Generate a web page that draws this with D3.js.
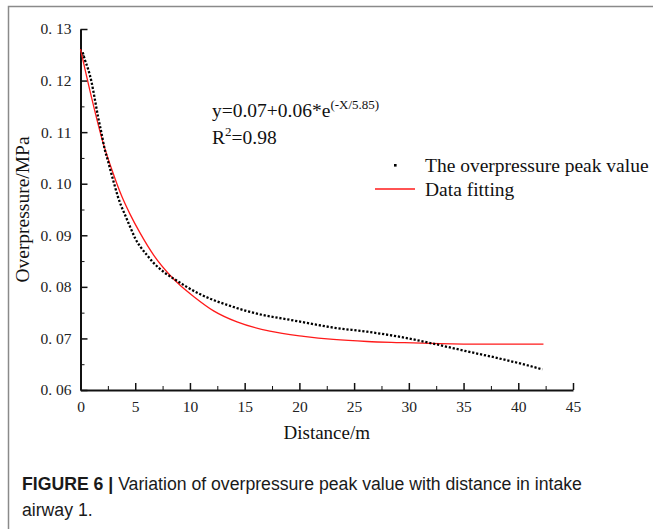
<!DOCTYPE html>
<html>
<head>
<meta charset="utf-8">
<style>
  body { margin: 0; background: #fff; }
  svg { display: block; }
  .tick text { font-family: "Liberation Serif", serif; font-size: 15.5px; fill: #222; }
  .axis path, .axis line { stroke: #111; }
</style>
</head>
<body>
<div id="container"></div>
<script src="https://cdn.jsdelivr.net/npm/d3@7"></script>
<script>

// peak overpressure (distance m, MPa)
var peakDistance = [0.2, 0.4, 0.7, 1.0, 1.3, 1.6, 1.9, 2.2, 2.5, 2.8, 3.1, 3.4, 3.7, 4.0, 4.3, 4.6,
                    5.0, 5.5, 6.1, 6.7, 7.6, 8.5, 9.1, 9.7, 11.0, 12.2, 13.4, 15.2, 17.0, 18.9,
                    20.7, 23.1, 26.2, 29.2, 32.2, 35.3, 38.3, 40.8, 42.2];
var peakValue = [0.1255, 0.1240, 0.1222, 0.1198, 0.1165, 0.1130, 0.1100, 0.1068, 0.1045, 0.1021,
                 0.0998, 0.0976, 0.0958, 0.0943, 0.0928, 0.0913, 0.0894, 0.0877, 0.0861, 0.0846,
                 0.0829, 0.0816, 0.0808, 0.0800, 0.0785, 0.0774, 0.0765, 0.0753, 0.0744, 0.0737,
                 0.0730, 0.0721, 0.0713, 0.0703, 0.0690, 0.0675, 0.0661, 0.0648, 0.0640];

// fitted curve
var fitDistance = [0, 1.0, 2.0, 2.9, 3.8, 4.5, 5.4, 6.7, 8.2, 9.1, 10.3, 12.2, 14.3, 17.3, 20.4,
                   23.1, 26.2, 29.2, 32.8, 36.8, 42.3];
var fitValue = [0.1261, 0.1168, 0.1084, 0.1025, 0.0974, 0.0942, 0.0906, 0.0861, 0.0822, 0.0803,
                0.0782, 0.0753, 0.0732, 0.0714, 0.0704, 0.0698, 0.0694, 0.0692, 0.0690, 0.0689, 0.0689];

var xTicks = [0, 5, 10, 15, 20, 25, 30, 35, 40, 45];
var yTicks = [0.06, 0.07, 0.08, 0.09, 0.10, 0.11, 0.12, 0.13];
var yTickLabels = ["0. 06", "0. 07", "0. 08", "0. 09", "0. 10", "0. 11", "0. 12", "0. 13"];

var W = 653, H = 529;
var svg = d3.select("#container").append("svg")
    .attr("width", W)
    .attr("height", H);

// figure frame (left + top)
svg.append("path")
    .attr("d", "M8.5," + H + "V6.5H" + W)
    .attr("fill", "none")
    .attr("stroke", "#8a8a8a")
    .attr("stroke-width", 1.5);

var x = d3.scaleLinear().domain([0, 45]).range([80.5, 573]);
var y = d3.scaleLinear().domain([0.06, 0.13]).range([390, 29]);

// minor ticks
svg.append("g")
    .attr("class", "axis")
    .attr("transform", "translate(0,390)")
    .call(d3.axisBottom(x).tickValues(d3.range(2.5, 45, 5)).tickSize(-4).tickFormat(""))
    .call(function(g) { g.select(".domain").remove(); });

svg.append("g")
    .attr("class", "axis")
    .attr("transform", "translate(80.5,0)")
    .call(d3.axisLeft(y).tickValues(d3.range(0.065, 0.13, 0.01)).tickSize(-4).tickFormat(""))
    .call(function(g) { g.select(".domain").remove(); });

// main axes, ticks point inward
var xAxis = svg.append("g")
    .attr("class", "axis")
    .attr("transform", "translate(0,390)")
    .call(d3.axisBottom(x).tickValues(xTicks).tickSizeInner(-7).tickSizeOuter(0).tickPadding(11));
xAxis.select(".domain").attr("stroke-width", 2);
xAxis.selectAll(".tick line").attr("stroke-width", 1.5);

var yAxis = svg.append("g")
    .attr("class", "axis")
    .attr("transform", "translate(80.5,0)")
    .call(d3.axisLeft(y).tickValues(yTicks).tickSizeInner(-7).tickSizeOuter(0).tickPadding(9)
      .tickFormat(function(d, i) { return yTickLabels[i]; }));
yAxis.select(".domain").attr("stroke-width", 2);
yAxis.selectAll(".tick line").attr("stroke-width", 1.5);

// axis titles
svg.append("text")
    .attr("x", x(22.5))
    .attr("y", 439)
    .attr("text-anchor", "middle")
    .attr("font-family", "Liberation Serif, serif")
    .attr("font-size", 19)
    .attr("fill", "#111")
    .text("Distance/m");

svg.append("text")
    .attr("transform", "translate(29," + y(0.095) + ") rotate(-90)")
    .attr("text-anchor", "middle")
    .attr("font-family", "Liberation Serif, serif")
    .attr("font-size", 19.5)
    .attr("fill", "#111")
    .text("Overpressure/MPa");

// series
var fitData = fitDistance.map(function(d, i) { return [d, fitValue[i]]; });
var peakData = peakDistance.map(function(d, i) { return [d, peakValue[i]]; });

var line = d3.line()
    .x(function(d) { return x(d[0]); })
    .y(function(d) { return y(d[1]); })
    .curve(d3.curveMonotoneX);

svg.append("path")
    .datum(fitData)
    .attr("d", line)
    .attr("fill", "none")
    .attr("stroke", "#ff1a1a")
    .attr("stroke-width", 1.3);

svg.append("path")
    .datum(peakData)
    .attr("d", line)
    .attr("fill", "none")
    .attr("stroke", "#000")
    .attr("stroke-width", 2.3)
    .attr("stroke-dasharray", "2.2,1.8");

// equation
var eq = svg.append("text")
    .attr("x", 212)
    .attr("y", 117)
    .attr("font-family", "Liberation Serif, serif")
    .attr("font-size", 19.5)
    .attr("fill", "#111");
eq.append("tspan").text("y=0.07+0.06*e");
eq.append("tspan").attr("font-size", 13).attr("dy", -8).text("(-X/5.85)");

var r2 = svg.append("text")
    .attr("x", 212)
    .attr("y", 144)
    .attr("font-family", "Liberation Serif, serif")
    .attr("font-size", 19.5)
    .attr("fill", "#111");
r2.append("tspan").text("R");
r2.append("tspan").attr("font-size", 13).attr("dy", -8).text("2");
r2.append("tspan").attr("dy", 8).text("=0.98");

// legend
var legend = svg.append("g")
    .attr("font-family", "Liberation Serif, serif")
    .attr("font-size", 19.5)
    .attr("fill", "#111");

legend.append("rect")
    .attr("x", 394)
    .attr("y", 164)
    .attr("width", 2.6)
    .attr("height", 2.6)
    .attr("fill", "#000");
legend.append("text")
    .attr("x", 425)
    .attr("y", 172)
    .text("The overpressure peak value");

legend.append("line")
    .attr("x1", 375)
    .attr("x2", 415)
    .attr("y1", 189)
    .attr("y2", 189)
    .attr("stroke", "#ff1a1a")
    .attr("stroke-width", 1.3);
legend.append("text")
    .attr("x", 425)
    .attr("y", 196)
    .text("Data fitting");

// caption, condensed sans
var capG = svg.append("g")
    .attr("transform", "translate(22,0) scale(0.93,1)")
    .attr("font-family", "Liberation Sans, Arial, sans-serif")
    .attr("font-size", 19)
    .attr("fill", "#1a1a1a");
var cap = capG.append("text")
    .attr("x", 0)
    .attr("y", 490);
cap.append("tspan").attr("font-weight", "bold").text("FIGURE 6 | ");
cap.append("tspan").text("Variation of overpressure peak value with distance in intake");

capG.append("text")
    .attr("x", 0)
    .attr("y", 516)
    .text("airway 1.");

</script>
</body>
</html>
